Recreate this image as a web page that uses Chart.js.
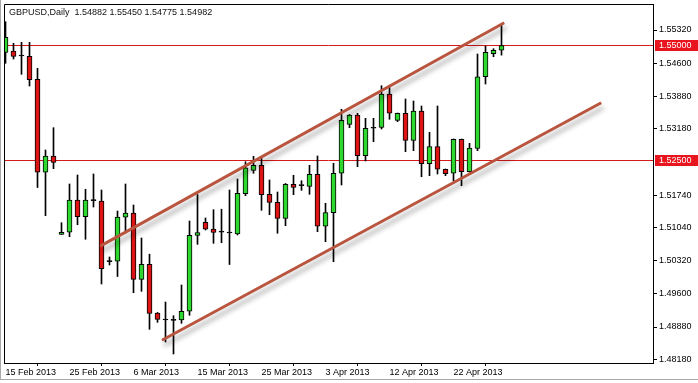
<!DOCTYPE html>
<html><head><meta charset="utf-8">
<script src="https://cdn.jsdelivr.net/npm/chart.js@4"></script>
<style>html,body{margin:0;padding:0;background:#fff;overflow:hidden}#wrap{width:698px;height:383px;position:relative}canvas{display:block}</style>
</head><body><div id="wrap"><canvas id="c" width="698" height="383"></canvas></div>
<script>
// ---- data ----
const symbolTitle = 'GBPUSD,Daily  1.54882 1.55450 1.54775 1.54982';
const opens = [1.54836,1.54865,1.54756,1.54750,1.54251,1.52235,1.52588,1.50890,1.50934,1.51634,
  1.51272,1.51619,1.51612,1.50296,1.50305,1.51259,1.51352,1.49914,1.50240,1.49184,
  1.49032,1.49025,1.49032,1.49221,1.50868,1.51150,1.51005,1.50936,1.50918,1.50897,
  1.51771,1.52278,1.52386,1.51758,1.51584,1.51237,1.51974,1.51944,1.51931,1.52191,
  1.51064,1.51359,1.52213,1.53275,1.53477,1.52595,1.53189,1.53210,1.53932,1.53362,
  1.53514,1.52928,1.53564,1.52421,1.52790,1.52300,1.52213,1.52950,1.52248,1.52755,
  1.54307,1.54806,1.54882];
const highs = [1.55500,1.55032,1.55053,1.55053,1.54490,1.52718,1.53202,1.51142,1.51981,1.52176,
  1.51866,1.52198,1.51851,1.50398,1.51395,1.51981,1.51526,1.50810,1.50459,1.49195,
  1.49422,1.49125,1.49791,1.51179,1.51753,1.51244,1.51424,1.51434,1.51851,1.52089,
  1.52464,1.52581,1.52551,1.52068,1.51807,1.51992,1.52170,1.52052,1.52386,1.52588,
  1.51562,1.52430,1.53601,1.53488,1.53514,1.53405,1.53405,1.54112,1.54106,1.53520,
  1.53824,1.53781,1.53672,1.53102,1.53672,1.52306,1.52957,1.52957,1.52863,1.54800,
  1.54973,1.54915,1.55450];
const lows = [1.54598,1.54691,1.54359,1.54106,1.51905,1.51294,1.52313,1.50886,1.50838,1.51098,
  1.50782,1.51482,1.49813,1.50225,1.49975,1.50918,1.49624,1.49654,1.48830,1.48982,
  1.48555,1.48295,1.48960,1.49134,1.50673,1.50983,1.50695,1.50708,1.50235,1.50875,
  1.51727,1.52213,1.51411,1.51315,1.50912,1.51077,1.51749,1.51844,1.51758,1.50947,
  1.50730,1.50296,1.51959,1.53202,1.52356,1.52480,1.52898,1.53173,1.53384,1.53332,
  1.52681,1.52703,1.52139,1.52161,1.52198,1.52161,1.52046,1.51944,1.52241,1.52703,
  1.54149,1.54741,1.54775];
const closes = [1.55162,1.54745,1.54756,1.54242,1.52235,1.52588,1.52451,1.50934,1.51634,1.51272,
  1.51634,1.51619,1.50144,1.50296,1.51265,1.51352,1.49914,1.50240,1.49173,1.49047,
  1.49032,1.49025,1.49221,1.50868,1.50929,1.50999,1.50929,1.50936,1.50918,1.51779,
  1.52334,1.52386,1.51749,1.51584,1.51237,1.51974,1.51909,1.51944,1.52191,1.51064,
  1.51359,1.52213,1.53362,1.53477,1.52595,1.53189,1.53189,1.53932,1.53514,1.53514,
  1.52928,1.53564,1.52421,1.52790,1.52300,1.52204,1.52950,1.52248,1.52761,1.54307,
  1.54836,1.54880,1.54982];
const dateTickIndex = [0,8,16,24,32,40,48,56];
const dateTickText = ['15 Feb 2013','25 Feb 2013','6 Mar 2013','15 Mar 2013','25 Mar 2013','3 Apr 2013','12 Apr 2013','22 Apr 2013'];
const priceTicks = [1.55320,1.54600,1.53880,1.53180,1.51740,1.51040,1.50320,1.49600,1.48880,1.48180];
const levelLines = [1.55000,1.52500];
const upperChannel = [{x:11.84,y:1.50633},{x:62.34,y:1.55478}];
const lowerChannel = [{x:19.55,y:1.48593},{x:74.47,y:1.53742}];

// ---- styles ----
const UP = '#2fd82f', DOWN = '#dc1414', DOJI = '#000000';
const FONT = '"Liberation Sans", Arial, sans-serif';
const idx = opens.map((_, i) => i);
const wickData = idx.map(i => ({x: i, y: [lows[i], highs[i]]}));
const bodyData = idx.map(i => ({x: i, y: [opens[i], closes[i]]}));
const bodyColors = idx.map(i => closes[i] > opens[i] ? UP : (closes[i] < opens[i] ? DOWN : DOJI));

const decor = {
  id: 'decor',
  beforeDatasetsDraw(chart) {
    const {ctx, chartArea: a, scales: {y}} = chart;
    ctx.save();
    ctx.strokeStyle = '#d41a1a';
    ctx.lineWidth = 1;
    levelLines.forEach(v => {
      const py = Math.round(y.getPixelForValue(v)) + 0.5;
      ctx.beginPath(); ctx.moveTo(a.left, py); ctx.lineTo(a.right, py); ctx.stroke();
    });
    ctx.restore();
  },
  beforeDatasetDraw(chart, args) {
    if (chart.data.datasets[args.index].type === 'line') {
      const ctx = chart.ctx;
      ctx.save();
      ctx.shadowColor = 'rgba(0,0,0,0.34)';
      ctx.shadowBlur = 5;
      ctx.shadowOffsetX = 2;
      ctx.shadowOffsetY = 5;
    }
  },
  afterDatasetDraw(chart, args) {
    if (chart.data.datasets[args.index].type === 'line') chart.ctx.restore();
  },
  afterDraw(chart) {
    const {ctx, chartArea: a, scales: {y}} = chart;
    ctx.save();
    ctx.strokeStyle = '#000';
    ctx.lineWidth = 1;
    ctx.beginPath();
    ctx.moveTo(a.left + 0.5, a.bottom); ctx.lineTo(a.left + 0.5, a.top + 0.5); ctx.lineTo(a.right, a.top + 0.5);
    ctx.stroke();
    // window frame
    ctx.strokeStyle = '#a8a8a8';
    ctx.beginPath(); ctx.moveTo(0.5, 0); ctx.lineTo(0.5, 380); ctx.moveTo(0, 379.5); ctx.lineTo(698, 379.5); ctx.stroke();
    // level price boxes
    ctx.font = '9px ' + FONT;
    ctx.textBaseline = 'middle';
    levelLines.forEach(v => {
      const py = Math.round(y.getPixelForValue(v)) + 0.5;
      ctx.fillStyle = '#e8141e';
      ctx.fillRect(a.right + 2, py - 5.5, 698 - a.right - 2, 11);
      ctx.fillStyle = '#fff';
      ctx.fillText(v.toFixed(5), a.right + 6, py + 0.5);
    });
    // title
    ctx.fillStyle = '#111';
    ctx.fillText(symbolTitle, 9, 13);
    ctx.restore();
  }
};

new Chart(document.getElementById('c'), {
  type: 'bar',
  data: {
    datasets: [
      {type: 'line', data: upperChannel, borderColor: '#b9553f', borderWidth: 3, pointRadius: 0, fill: false, tension: 0, order: 0},
      {type: 'line', data: lowerChannel, borderColor: '#b9553f', borderWidth: 3, pointRadius: 0, fill: false, tension: 0, order: 0},
      {type: 'bar', data: bodyData, backgroundColor: bodyColors, borderColor: '#000', borderWidth: 1, borderSkipped: false,
        barThickness: 5, minBarLength: 1, grouped: false, order: 1},
      {type: 'bar', data: wickData, backgroundColor: '#000', borderWidth: 0, barThickness: 1, grouped: false, order: 2}
    ]
  },
  options: {
    responsive: false,
    animation: false,
    devicePixelRatio: 1,
    layout: {padding: {left: 4, top: 4, right: 0, bottom: 0}},
    plugins: {legend: {display: false}, tooltip: {enabled: false}},
    scales: {
      x: {
        type: 'linear', min: -0.1875, max: 80.9375, offset: false,
        afterBuildTicks: s => { s.ticks = dateTickIndex.map(v => ({value: v})); },
        afterFit: s => { s.height = 20; s.paddingLeft = 0; s.paddingRight = 0; },
        grid: {display: true, drawOnChartArea: false, drawTicks: true, tickLength: 3, color: '#000'},
        border: {display: true, color: '#000'},
        ticks: {autoSkip: false, maxRotation: 0, align: 'start', padding: 1, color: '#000',
          font: {family: FONT, size: 9},
          callback: v => { const k = dateTickIndex.indexOf(v); return k >= 0 ? dateTickText[k] : ''; }}
      },
      y: {
        type: 'linear', position: 'right', min: 1.480996, max: 1.558838,
        afterBuildTicks: s => { s.ticks = priceTicks.map(v => ({value: v})); },
        afterFit: s => { s.width = 45; s.paddingTop = 0; s.paddingBottom = 0; },
        grid: {display: true, drawOnChartArea: false, drawTicks: true, tickLength: 4, color: '#000'},
        border: {display: true, color: '#000'},
        ticks: {autoSkip: false, padding: 2, color: '#000', font: {family: FONT, size: 9},
          callback: v => Number(v).toFixed(5)}
      }
    }
  },
  plugins: [decor]
});
</script>
</body></html>
